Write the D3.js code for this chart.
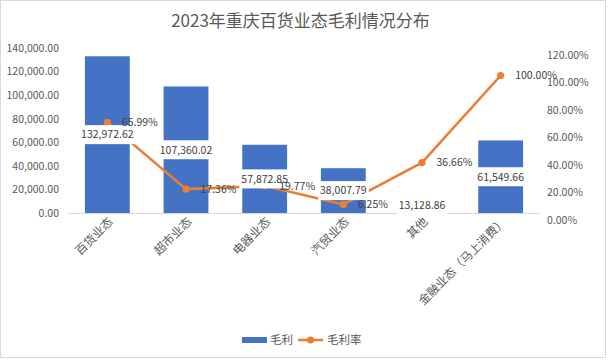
<!DOCTYPE html>
<html><head><meta charset="utf-8">
<script src="https://cdn.jsdelivr.net/npm/d3@7"></script>
<style>
body{margin:0;background:#fff;}
svg{display:block;font-family:"Noto Sans CJK SC","Noto Sans",sans-serif;}
</style></head>
<body><svg id="c" width="610" height="362"></svg>
<script>
const categories = ["百货业态","超市业态","电器业态","汽贸业态","其他","金融业态（马上消费）"];
const grossProfit = [132972.62,107360.02,57872.85,38007.79,13128.86,61549.66];
const grossMargin = [65.99,17.36,19.77,6.25,36.66,100.00];
const leftTicks = [0,20000,40000,60000,80000,100000,120000,140000];
const rightTicks = [0,20,40,60,80,100,120];
const title = "2023年重庆百货业态毛利情况分布";
const legendLabels = ["毛利","毛利率"];

const blue = "#4472C4", orange = "#ED7D31", txt = "#595959";
const svg = d3.select("#c");
const L = 68, R = 540, T = 48, B = 213;

svg.append("rect").attr("x",0.5).attr("y",0.5).attr("width",605).attr("height",357)
  .attr("fill","#fff").attr("stroke","#D9D9D9");

svg.append("text").attr("x",300.5).attr("y",27).attr("text-anchor","middle")
  .attr("font-size",17).attr("fill",txt).text(title);

const x = d3.scaleBand().domain(categories).range([L,R]).paddingInner(0.43).paddingOuter(0.215);
const y = d3.scaleLinear().domain([0,140000]).range([B,T]);
const y2 = d3.scaleLinear().domain([0,120]).range([B,T]);
const cx = d => x(d) + x.bandwidth()/2;

// left axis
const ya = d3.axisLeft(y).tickValues(leftTicks).tickSize(0).tickPadding(0)
  .tickFormat(d => d3.format(",.2f")(d));
const gy = svg.append("g").attr("transform",`translate(59,0)`).call(ya);
gy.select(".domain").remove();
gy.selectAll("text").attr("fill",txt).attr("font-size",10.5).attr("font-family","'Noto Sans CJK SC',sans-serif");

// right axis
const ya2 = d3.axisRight(y2).tickValues(rightTicks).tickSize(0).tickPadding(0)
  .tickFormat(d => d3.format(".2f")(d) + "%");
const gy2 = svg.append("g").attr("transform",`translate(547,7)`).call(ya2);
gy2.select(".domain").remove();
gy2.selectAll("text").attr("fill",txt).attr("font-size",10.5).attr("font-family","'Noto Sans CJK SC',sans-serif");

// bars
svg.append("g").selectAll("rect").data(categories).join("rect")
  .attr("x", d => x(d)).attr("width", x.bandwidth())
  .attr("y", (d,i) => y(grossProfit[i])).attr("height", (d,i) => B - y(grossProfit[i]))
  .attr("fill", blue);

// baseline
svg.append("line").attr("x1",L).attr("x2",R).attr("y1",B+0.5).attr("y2",B+0.5)
  .attr("stroke","#D9D9D9").attr("stroke-width",1);

// line
const line = d3.line().x((d,i) => cx(categories[i])).y(d => y2(d));
svg.append("path").datum(grossMargin).attr("d", line).attr("fill","none")
  .attr("stroke",orange).attr("stroke-width",2.6).attr("stroke-linejoin","round").attr("stroke-linecap","round");
svg.append("g").selectAll("circle").data(grossMargin).join("circle")
  .attr("cx",(d,i) => cx(categories[i])).attr("cy", d => y2(d)).attr("r",3.6).attr("fill",orange);

// bar labels with white boxes
const bl = svg.append("g");
grossProfit.forEach((v,i) => {
  const g = bl.append("g");
  const yc = (y(v) + B)/2;
  const t = g.append("text").attr("x", cx(categories[i])).attr("y", yc).attr("dy","0.36em")
    .attr("text-anchor","middle").attr("font-size",10.5).attr("fill","#404040")
    .text(d3.format(",.2f")(v));
  const bb = t.node().getBBox();
  g.insert("rect","text").attr("x", bb.x-2).attr("y", yc-9.5).attr("width", bb.width+4).attr("height",19).attr("fill","#fff");
});

// percent labels
svg.append("g").selectAll("text").data(grossMargin).join("text")
  .attr("x",(d,i) => cx(categories[i]) + 14.5).attr("y", d => y2(d)).attr("dy","0.36em")
  .attr("font-size",10.5).attr("fill","#404040").text(d => d3.format(".2f")(d) + "%");

// category labels
svg.append("g").selectAll("text").data(categories).join("text")
  .attr("transform", d => `translate(${cx(d)+3},${219}) rotate(-45)`)
  .attr("text-anchor","end").attr("dy","0.4em")
  .attr("font-size",11.8).attr("fill",txt).text(d => d);

// legend
const lg = svg.append("g");
lg.append("rect").attr("x",242).attr("y",337).attr("width",25).attr("height",6).attr("fill",blue);
lg.append("text").attr("x",270).attr("y",340).attr("dy","0.36em").attr("font-size",11.5).attr("fill",txt).text(legendLabels[0]);
lg.append("line").attr("x1",298).attr("x2",323).attr("y1",340).attr("y2",340).attr("stroke",orange).attr("stroke-width",2.6);
lg.append("circle").attr("cx",310.5).attr("cy",340).attr("r",3.6).attr("fill",orange);
lg.append("text").attr("x",327).attr("y",340).attr("dy","0.36em").attr("font-size",11.5).attr("fill",txt).text(legendLabels[1]);
</script></body></html>
